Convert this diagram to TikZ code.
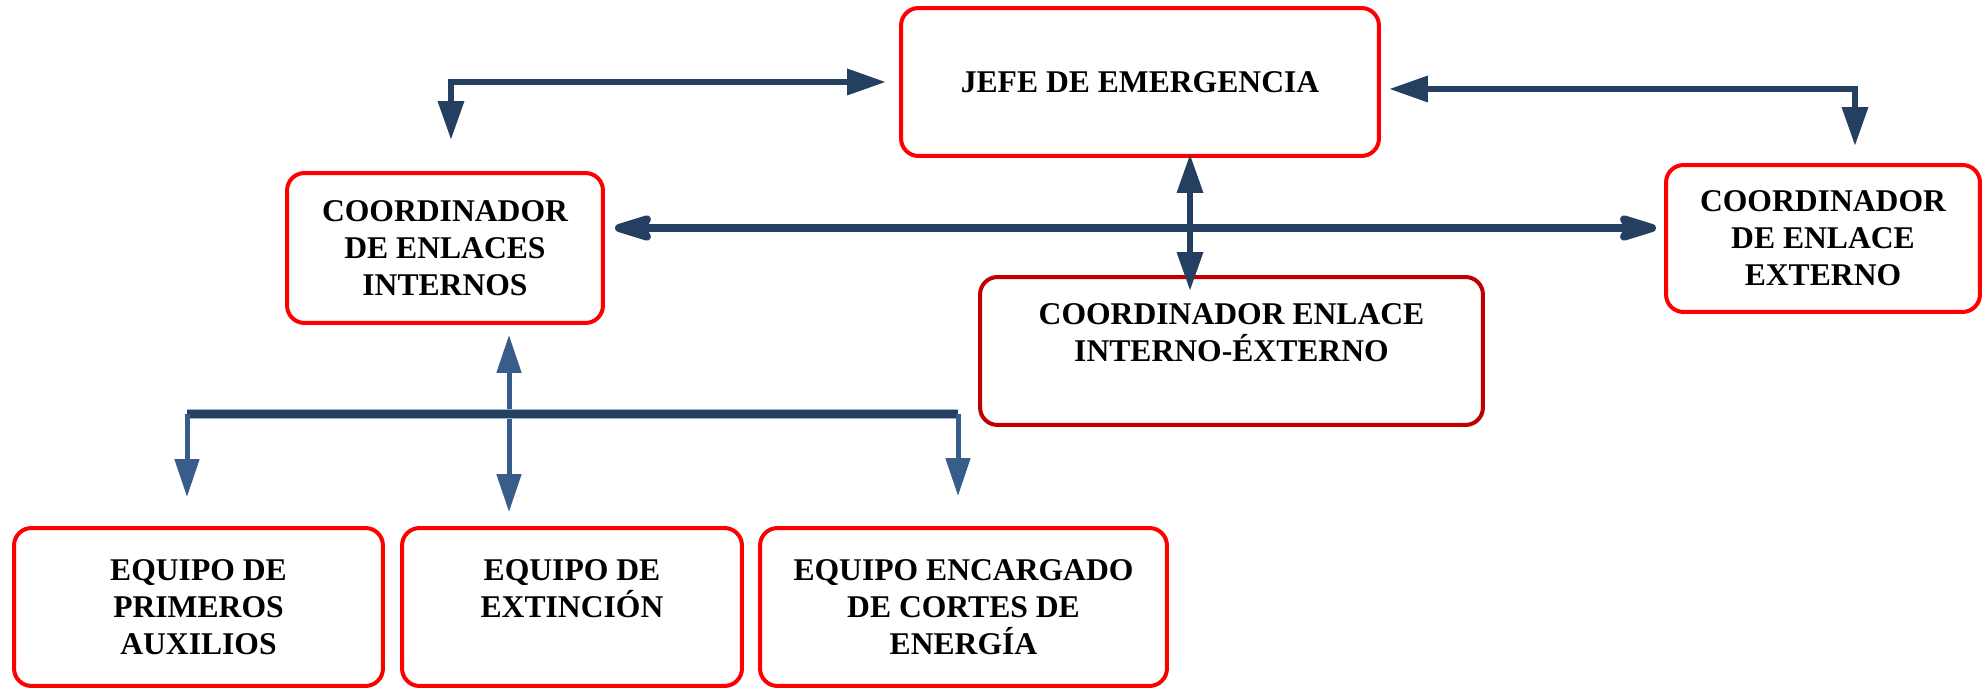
\documentclass[tikz,border=0pt]{standalone}
\usepackage{fontspec}
\setmainfont{Liberation Serif}
\usetikzlibrary{arrows.meta}
\definecolor{rojo}{HTML}{FF0000}
\definecolor{rojoosc}{HTML}{C00000}
\definecolor{marino}{HTML}{243F60}
\definecolor{acero}{HTML}{385D8A}
\definecolor{aceroclaro}{HTML}{95B3D7}

\begin{document}
\begin{tikzpicture}[x=0.02cm, y=-0.02cm,
	caja/.style={draw=rojo, line width=0.08cm, rounded corners=0.35cm, align=center, inner sep=0pt, font=\fontsize{18}{21}\selectfont\bfseries},
	flecha/.style={draw=marino, line width=0.13cm, {Triangle[length=0.78cm, width=0.5cm]}-{Triangle[length=0.78cm, width=0.5cm]}},
	flechados/.style={draw=marino, line width=0.16cm, {Stealth[length=1cm, width=0.6cm, inset=0.18cm, round]}-{Stealth[length=1cm, width=0.6cm, inset=0.18cm, round]}},
	flechaaz/.style={draw=acero, line width=0.1cm, -{Triangle[length=0.76cm, width=0.48cm]}}]
	\useasboundingbox (0, 0) rectangle (1982, 688);

	\node (jefe) at (1140, 82) [caja, minimum width=9.56cm, minimum height=2.96cm] {JEFE DE EMERGENCIA};
	\node (internos) at (445, 248) [caja, minimum width=6.32cm, minimum height=3cm] {COORDINADOR\\DE ENLACES\\INTERNOS};
	\node (cie) at (1231.5, 351) [caja, draw=rojoosc, minimum width=10.06cm, minimum height=2.96cm] {COORDINADOR ENLACE\\INTERNO-ÉXTERNO\\~};
	\node (externo) at (1823, 238.5) [caja, minimum width=6.28cm, minimum height=2.94cm] {COORDINADOR\\DE ENLACE\\EXTERNO};
	\node (primeros) at (198.5, 607) [caja, minimum width=7.38cm, minimum height=3.16cm] {EQUIPO DE\\PRIMEROS\\AUXILIOS};
	\node (extincion) at (572, 607) [caja, minimum width=6.8cm, minimum height=3.16cm] {EQUIPO DE\\EXTINCIÓN\\~};
	\node (encargado) at (963.5, 607) [caja, minimum width=8.14cm, minimum height=3.16cm] {EQUIPO ENCARGADO\\DE CORTES DE\\ENERGÍA};

	\coordinate (cruce) at (1190, 228);
	\coordinate (rama) at (509, 414);
	\coordinate (barraizq) at (187, 414);
	\coordinate (barrader) at (958, 414);

	\draw[flecha, shorten <=0.26cm, shorten >=0.62cm] (jefe.west) -| ([xshift=0.12cm]internos.north);
	\draw[flecha, shorten <=0.16cm, shorten >=0.34cm] ([yshift=-0.14cm]jefe.east) -| ([xshift=0.64cm]externo.north);
	\draw[flechados, shorten <=0.2cm, shorten >=0.16cm] ([yshift=0.4cm]internos.east) -- ([yshift=0.4cm]internos.east -| externo.west);
	\draw[flecha, shorten <=-0.08cm, shorten >=-0.32cm] (cruce |- jefe.south) -- (cruce |- cie.north);

	\draw[flechaaz, {Triangle[length=0.76cm, width=0.48cm]}-{Triangle[length=0.76cm, width=0.48cm]}, shorten <=0.2cm, shorten >=0.28cm] (rama |- internos.south) -- (rama |- extincion.north);
	\draw[aceroclaro, line width=0.2cm] (barraizq) -- (barrader);
	\draw[marino, line width=0.16cm] (barraizq) -- (barrader);
	\draw[flechaaz, shorten >=0.58cm] (barraizq) -- (barraizq |- primeros.north);
	\draw[flechaaz, shorten >=0.6cm] (barrader) -- (barrader |- encargado.north);
\end{tikzpicture}
\end{document}
